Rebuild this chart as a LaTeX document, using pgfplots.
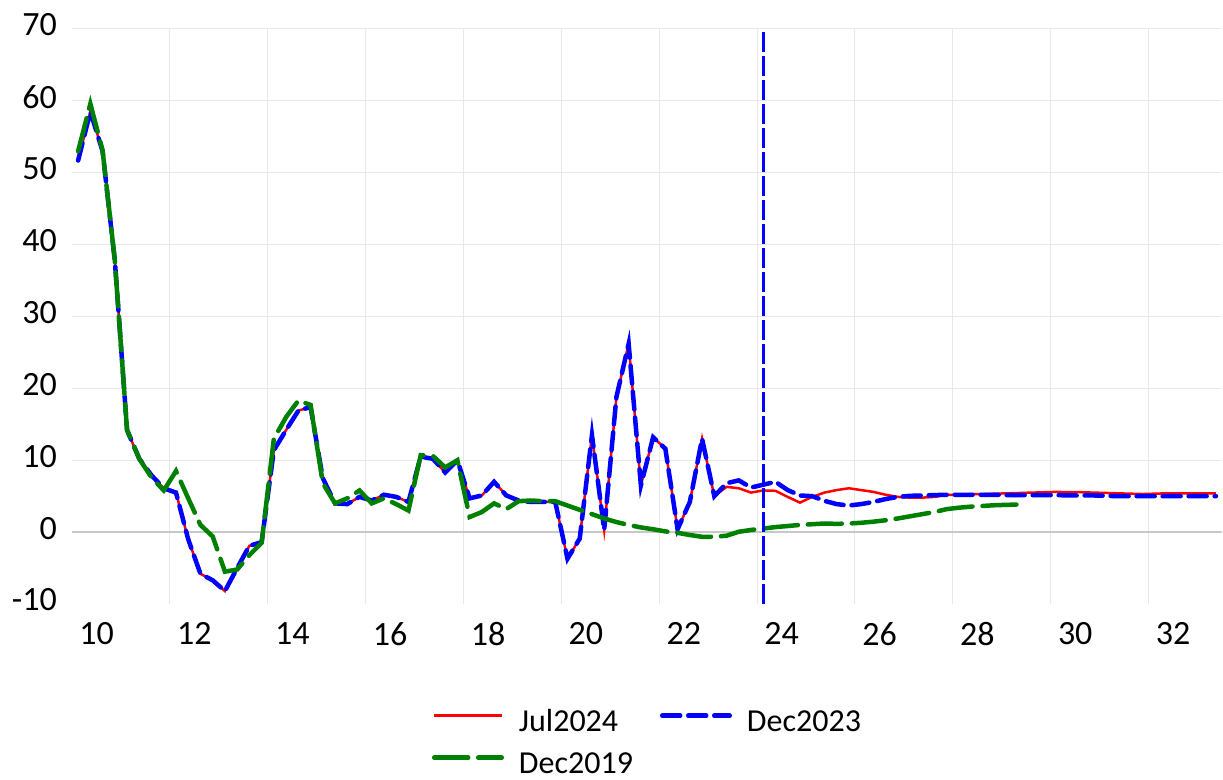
\documentclass[border=0pt]{standalone}
\usepackage{fontspec}
\setmainfont{Carlito}
\usepackage{pgfplots}
\usepackage{pgfplotstable}
\pgfplotsset{compat=1.18}

\definecolor{gridgray}{RGB}{232,232,232}
\definecolor{zerogray}{RGB}{200,200,200}
\definecolor{xlgreen}{RGB}{0,128,0}

% quarterly observations, x = year (2-digit) at mid-quarter
\pgfplotstableread{
x      jul   dec23  dec19
10.125 51.7  51.7   53.0
10.375 58.5  58.5   59.6
10.625 53.0  53.0   53.1
10.875 37.8  37.8   37.8
11.125 14.2  14.2   14.2
11.375 10.2  10.2   10.2
11.625 7.9   7.9    7.6
11.875 6.1   6.1    5.8
12.125 5.5   5.5    8.5
12.375 -1.0  -1.0   4.7
12.625 -5.8  -5.8   1.0
12.875 -6.7  -6.7   -0.6
13.125 -8.2  -8.2   -5.5
13.375 -5.0  -5.0   -5.2
13.625 -1.9  -1.9   -3.2
13.875 -1.4  -1.4   -1.5
14.125 11.4  11.4   13.0
14.375 14.2  14.2   16.0
14.625 16.9  16.9   18.3
14.875 17.4  17.4   17.7
15.125 7.5   7.5    6.8
15.375 4.0   4.0    4.0
15.625 3.9   3.9    4.7
15.875 4.9   4.9    5.8
16.125 4.4   4.4    4.0
16.375 5.2   5.2    4.7
16.625 4.9   4.9    3.9
16.875 4.2   4.2    3.0
17.125 10.5  10.5   10.7
17.375 10.2  10.2   10.6
17.625 8.3   8.3    9.0
17.875 10.0  10.0   10.0
18.125 4.7   4.7    2.1
18.375 5.1   5.1    2.8
18.625 7.0   7.0    4.0
18.875 5.1   5.1    3.2
19.125 4.4   4.4    4.3
19.375 4.2   4.2    4.4
19.625 4.2   4.2    4.3
19.875 4.2   4.2    4.3
20.125 -3.7  -3.7   3.7
20.375 -0.9  -0.9   3.1
20.625 13.5  13.5   2.5
20.875 0.3   0.3    1.9
21.125 18.8  18.8   1.4
21.375 26.2  26.2   1.0
21.625 6.5   6.5    0.65
21.875 13.2  13.2   0.4
22.125 11.6  11.6   0.1
22.375 0.4   0.4    -0.1
22.625 4.2   4.2    -0.4
22.875 13.0  13.0   -0.65
23.125 5.0   5.0    -0.65
23.375 6.3   6.8    -0.5
23.625 6.1   7.2    0.05
23.875 5.5   6.2    0.3
24.125 5.8   6.6    0.5
24.375 5.75  7.0    0.7
24.625 4.9   5.85   0.85
24.875 4.1   5.1    1.0
25.125 4.9   5.0    1.1
25.375 5.5   4.35   1.2
25.625 5.85  3.9    1.15
25.875 6.1   3.7    1.2
26.125 5.85  3.9    1.3
26.375 5.6   4.2    1.45
26.625 5.2   4.6    1.65
26.875 4.9   4.9    1.9
27.125 4.8   5.05   2.2
27.375 4.8   5.1    2.5
27.625 4.9   5.15   2.8
27.875 5.2   5.2    3.2
28.125 5.15  5.2    3.4
28.375 5.3   5.2    3.55
28.625 5.3   5.2    3.65
28.875 5.35  5.2    3.75
29.125 5.4   5.15   3.8
29.375 5.45  5.15   3.85
29.625 5.5   5.15   nan
29.875 5.55  5.15   nan
30.125 5.6   5.15   nan
30.375 5.55  5.1    nan
30.625 5.55  5.1    nan
30.875 5.5   5.1    nan
31.125 5.45  5.05   nan
31.375 5.4   5.0    nan
31.625 5.35  5.0    nan
31.875 5.3   5.0    nan
32.125 5.35  5.0    nan
32.375 5.4   5.0    nan
32.625 5.4   5.0    nan
32.875 5.4   5.0    nan
33.125 5.4   5.0    nan
33.375 5.4   5.0    nan
}\rates

\begin{document}
\begin{tikzpicture}[x=1pt,y=1pt]
\useasboundingbox (-72,-175) rectangle (1151,604);
\begin{axis}[
  at={(0,0)}, anchor=south west,
  scale only axis, width=1150pt, height=575pt,
  xmin=10, xmax=33.5, ymin=-10, ymax=70,
  axis line style={draw=none},
  major tick length=0pt,
  xtick={12,14,...,32},
  extra x ticks={10}, extra x tick style={grid=none},
  ytick={0,10,...,70},
  extra y ticks={-10}, extra y tick labels={-10}, extra y tick style={grid=none},
  grid=major,
  major grid style={gridgray, line width=1pt},
  /pgf/number format/assume math mode=true,
  tick label style={font=\fontsize{34}{40}\selectfont},
  xticklabel style={inner sep=0pt, anchor=north, xshift=24.5pt, yshift=-18pt},
  yticklabel style={inner sep=0pt, anchor=east, xshift=-15pt, yshift=4pt},
  legend columns=2,
  legend cell align=left,
  legend image code/.code={\draw[#1] (2.25pt,5pt) -- (69.75pt,5pt);},
  legend style={at={(0.3130,-0.1830)}, anchor=north west, draw=none, fill=none,
    inner sep=0pt, outer sep=0pt,
    font=\fontsize{32}{38}\selectfont,
    nodes={inner sep=0pt, text height=22pt, text depth=1pt},
    /tikz/row sep=19pt,
    /tikz/every odd column/.append style={column sep=15pt},
    /tikz/every even column/.append style={column sep=27pt}},
]
\draw[zerogray, line width=1.5pt] (axis cs:10,0) -- (axis cs:33.5,0);
\addplot[red, line width=2.5pt] table[x=x, y=jul] {\rates};
\addlegendentry{Jul2024}
\addplot[blue, line width=4.5pt, line cap=round, dash pattern=on 18pt off 8pt] table[x=x, y=dec23] {\rates};
\addlegendentry{Dec2023}
\addplot[xlgreen, line width=4.5pt, line cap=round, dash pattern=on 34pt off 10pt] table[x=x, y=dec19] {\rates};
\addlegendentry{Dec2019}
\addplot[blue, line width=3pt, dash pattern=on 20pt off 4pt, forget plot]
  coordinates {(24.14,-10) (24.14,70)};
\end{axis}
\end{tikzpicture}
\end{document}
